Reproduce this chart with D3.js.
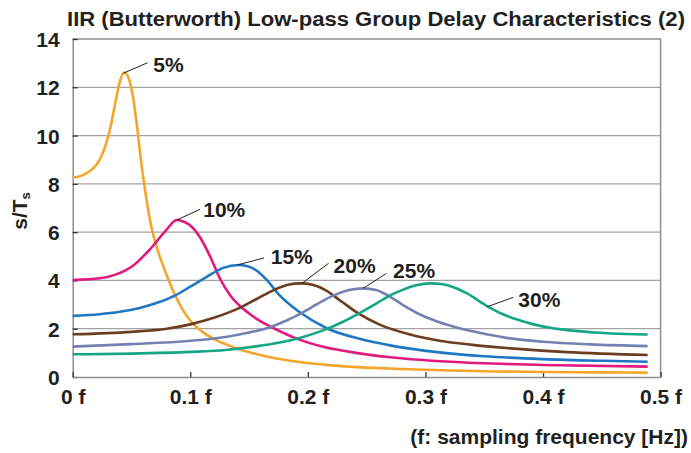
<!DOCTYPE html>
<html><head><meta charset="utf-8">
<script src="https://cdn.jsdelivr.net/npm/d3@7"></script>
<style>body{margin:0;background:#fff}svg{display:block}text{font-family:"Liberation Sans",Arial,Helvetica,sans-serif;font-weight:bold;fill:#231f20}</style>
</head><body><svg id="c" width="691" height="453"></svg>
<script>
const titleText = "IIR (Butterworth) Low-pass Group Delay Characteristics (2)";
const xTickValues = [0, 0.1, 0.2, 0.3, 0.4, 0.5];
const xTickLabels = ["0 f", "0.1 f", "0.2 f", "0.3 f", "0.4 f", "0.5 f"];
const yTickValues = [0, 2, 4, 6, 8, 10, 12, 14];
const seriesNames = ["5%", "10%", "15%", "20%", "25%", "30%"];
const seriesColors = ["#f4a52b", "#e2197f", "#1f78c3", "#6b3e1f", "#7481b3", "#14a786"];

const freq5  = [0, 0.007, 0.014, 0.02, 0.024, 0.028, 0.0326, 0.0368, 0.0402, 0.0439, 0.0476, 0.051, 0.0544, 0.0581, 0.0623, 0.0666, 0.0723, 0.0793, 0.087, 0.094, 0.102, 0.11, 0.12, 0.13, 0.142, 0.156, 0.171, 0.193, 0.22, 0.242, 0.28, 0.321, 0.36, 0.40, 0.45, 0.489];
const delay5 = [8.26, 8.33, 8.51, 8.78, 9.1, 9.6, 10.45, 11.5, 12.25, 12.61, 12.37, 11.68, 10.51, 8.95, 7.5, 6.3, 5.25, 4.3, 3.4, 2.75, 2.22, 1.88, 1.58, 1.36, 1.14, 0.95, 0.79, 0.62, 0.48, 0.41, 0.33, 0.27, 0.23, 0.21, 0.19, 0.18];
const freq10  = [0, 0.023, 0.037, 0.051, 0.065, 0.079, 0.0885, 0.095, 0.1, 0.108, 0.117, 0.125, 0.134, 0.142, 0.15, 0.16, 0.171, 0.19, 0.213, 0.244, 0.27, 0.321, 0.40, 0.489];
const delay10 = [4.02, 4.09, 4.25, 4.6, 5.25, 6.05, 6.5, 6.42, 6.28, 5.81, 4.98, 4.1, 3.38, 2.95, 2.63, 2.3, 2.02, 1.6, 1.25, 0.98, 0.82, 0.63, 0.5, 0.43];
const freq15  = [0, 0.023, 0.04, 0.057, 0.07, 0.086, 0.1, 0.114, 0.128, 0.141, 0.148, 0.156, 0.165, 0.176, 0.192, 0.216, 0.244, 0.273, 0.312, 0.35, 0.40, 0.45, 0.489];
const delay15 = [2.53, 2.6, 2.7, 2.86, 3.04, 3.35, 3.74, 4.15, 4.52, 4.64, 4.6, 4.42, 4.02, 3.38, 2.72, 2.02, 1.58, 1.28, 1.02, 0.86, 0.74, 0.67, 0.63];
const freq20  = [0, 0.05, 0.08, 0.1, 0.12, 0.14, 0.156, 0.171, 0.183, 0.194, 0.204, 0.215, 0.228, 0.244, 0.261, 0.287, 0.312, 0.34, 0.369, 0.42, 0.489];
const delay20 = [1.77, 1.87, 2.0, 2.18, 2.45, 2.82, 3.22, 3.6, 3.82, 3.88, 3.82, 3.6, 3.15, 2.6, 2.17, 1.76, 1.5, 1.33, 1.2, 1.03, 0.91];
const freq25  = [0, 0.05, 0.1, 0.13, 0.15, 0.165, 0.18, 0.195, 0.21, 0.222, 0.235, 0.247, 0.258, 0.268, 0.281, 0.295, 0.31, 0.329, 0.345, 0.369, 0.4, 0.44, 0.489];
const delay25 = [1.26, 1.36, 1.5, 1.66, 1.84, 2.02, 2.3, 2.66, 3.08, 3.38, 3.6, 3.67, 3.6, 3.38, 2.98, 2.6, 2.3, 2.02, 1.84, 1.62, 1.46, 1.35, 1.28];
const freq30  = [0, 0.05, 0.1, 0.13, 0.156, 0.175, 0.193, 0.21, 0.23, 0.245, 0.2585, 0.27, 0.28, 0.292, 0.304, 0.315, 0.325, 0.335, 0.352, 0.365, 0.378, 0.392, 0.406, 0.425, 0.448, 0.47, 0.489];
const delay30 = [0.94, 0.97, 1.04, 1.12, 1.27, 1.42, 1.62, 1.88, 2.29, 2.68, 3.05, 3.38, 3.6, 3.8, 3.88, 3.84, 3.7, 3.47, 2.95, 2.62, 2.38, 2.18, 2.04, 1.92, 1.83, 1.78, 1.76];

// label anchor points on each curve (f, delay)
const labelFreq  = [0.043, 0.0884, 0.14, 0.195, 0.247, 0.3526];
const labelDelay = [12.58, 6.5, 4.64, 3.88, 3.67, 2.91];

const freqs = [freq5, freq10, freq15, freq20, freq25, freq30];
const delays = [delay5, delay10, delay15, delay20, delay25, delay30];

// layout (pixels)
const M = {left: 72.7, right: 660.6, top: 39, bottom: 377};
const leaderEnd = [[24.4, -10.6], [23.3, -10.7], [26.7, -7], [26.6, -20], [23.4, -15], [26, -9.4]];
const labelOff  = [[30, -1.6], [26.6, -3.3], [33.4, -1], [31.6, -10.6], [30, -10], [31, 0]];

const svg = d3.select("#c");
const x = d3.scaleLinear().domain([0, 0.5]).range([M.left, M.right]);
const y = d3.scaleLinear().domain([0, 14]).range([M.bottom, M.top]);

// grid
svg.append("g").selectAll("line").data(yTickValues.filter(v => v > 0 && v < 14)).join("line")
  .attr("x1", M.left).attr("x2", M.right).attr("y1", d => y(d)).attr("y2", d => y(d))
  .attr("stroke", "#a3a3a3").attr("stroke-width", 1.3);
// border top/right
svg.append("path").attr("d", `M${M.left},${M.top}H${M.right}V${M.bottom}`)
  .attr("fill", "none").attr("stroke", "#8e8e8e").attr("stroke-width", 1.5);

// axes
const yAxis = d3.axisLeft(y).tickValues(yTickValues).tickSizeInner(-5).tickSizeOuter(0).tickPadding(13).tickFormat(d3.format("d"));
const gy = svg.append("g").attr("transform", `translate(${M.left},0)`).call(yAxis);
gy.select(".domain").attr("stroke", "#8e8e8e").attr("stroke-width", 1.5);
gy.selectAll(".tick line").attr("stroke", "#333").attr("stroke-width", 1.3);
gy.selectAll(".tick text").attr("font-size", 21).attr("dy", "0.36em").attr("fill", "#231f20");
gy.attr("font-family", null);

const xAxis = d3.axisBottom(x).tickValues(xTickValues).tickSizeInner(-5).tickSizeOuter(0).tickPadding(12)
  .tickFormat((d, i) => xTickLabels[i]);
const gx = svg.append("g").attr("transform", `translate(0,${M.bottom})`).call(xAxis);
gx.select(".domain").attr("stroke", "#8e8e8e").attr("stroke-width", 1.5);
gx.selectAll(".tick line").attr("stroke", "#333").attr("stroke-width", 1.3);
gx.selectAll(".tick text").attr("font-size", 21).attr("fill", "#231f20");
gx.attr("font-family", null);

// curves
const line = d3.line().x(d => x(d[0])).y(d => y(d[1])).curve(d3.curveMonotoneX);
freqs.forEach((fs, i) => {
  svg.append("path").datum(fs.map((f, j) => [f, delays[i][j]]))
    .attr("d", line).attr("fill", "none").attr("stroke", seriesColors[i])
    .attr("stroke-width", 2.6).attr("stroke-linejoin", "round");
});

// labels
seriesNames.forEach((name, i) => {
  const px = x(labelFreq[i]), py = y(labelDelay[i]);
  svg.append("line").attr("x1", px).attr("y1", py)
    .attr("x2", px + leaderEnd[i][0]).attr("y2", py + leaderEnd[i][1])
    .attr("stroke", "#231f20").attr("stroke-width", 1);
  svg.append("text").attr("x", px + labelOff[i][0]).attr("y", py + labelOff[i][1])
    .attr("font-size", 21).text(name);
});

// titles
svg.append("text").attr("x", 67).attr("y", 26).attr("font-size", 20)
  .attr("textLength", 618).attr("lengthAdjust", "spacingAndGlyphs").text(titleText);
svg.append("text").attr("x", 688).attr("y", 444).attr("font-size", 21).attr("text-anchor", "end")
  .text("(f: sampling frequency [Hz])");
const yt = svg.append("text").attr("transform", "translate(27,211) rotate(-90)")
  .attr("text-anchor", "middle").attr("font-size", 21);
yt.append("tspan").text("s/T");
yt.append("tspan").attr("font-size", 13).attr("dy", 3).text("s");
</script></body></html>
